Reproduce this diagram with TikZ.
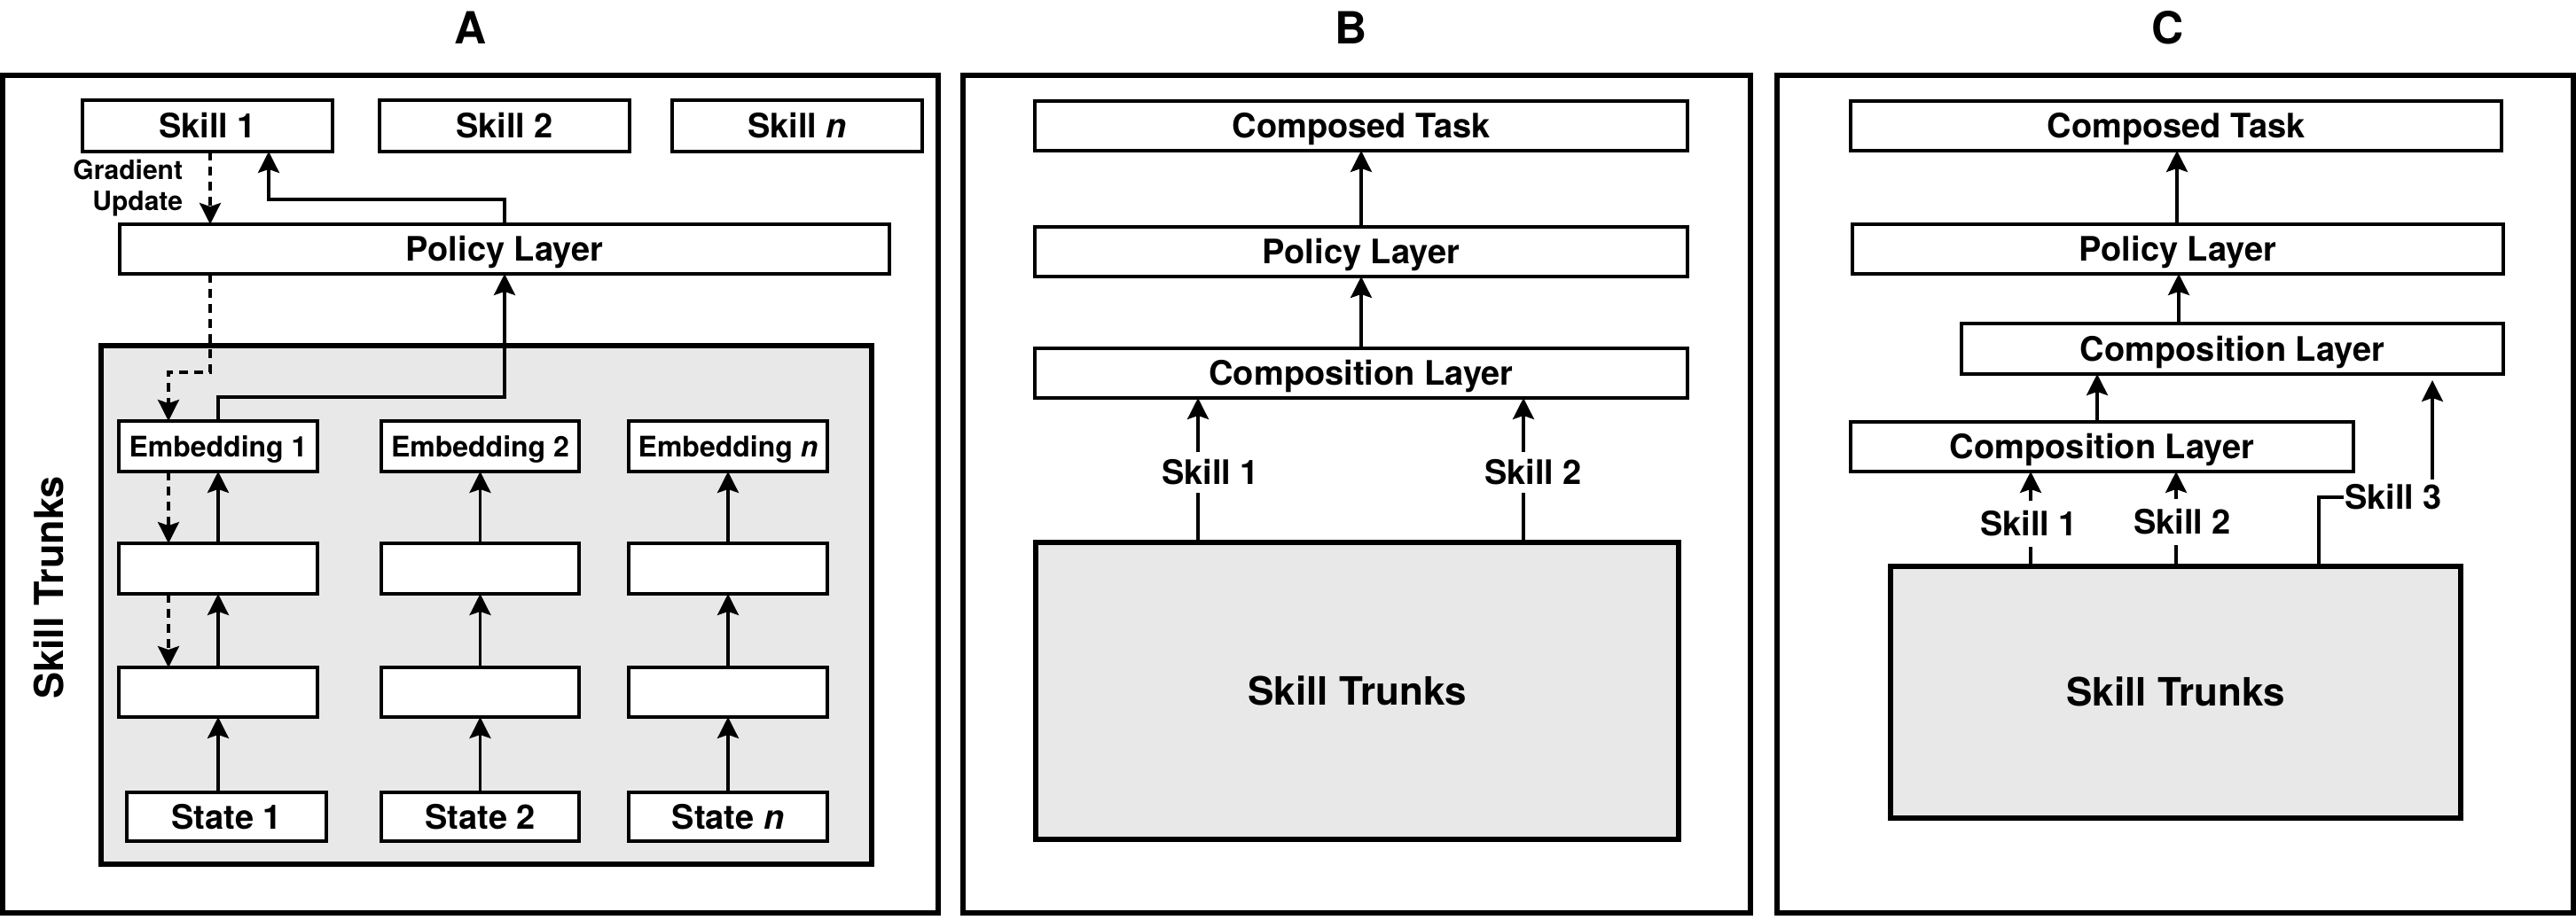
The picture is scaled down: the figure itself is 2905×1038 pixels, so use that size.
\documentclass[tikz,border=0pt]{standalone}
\usepackage{fontspec}
\setmainfont{TeX Gyre Heros}
\usetikzlibrary{arrows.meta}
\definecolor{trunkgray}{HTML}{E8E8E8}
\begin{document}
\begin{tikzpicture}[x=1pt,y=-1pt,
  every node/.style={inner sep=0pt, outer sep=0pt},
  fs/.style={font=\bfseries\fontsize{#1}{#1}\selectfont, text height=0.72*#1, text depth=0pt},
  blk/.style 2 args={draw, line width=3.5pt, fill=white, minimum width=#1, minimum height=#2, fs=38},
  frame/.style={draw, line width=5.5pt},
  trunk/.style={draw, line width=5.5pt, fill=trunkgray},
  arr/.style={line width=3.2pt, -{Stealth[length=24pt,width=24pt,inset=4pt]}},
  dsh/.style={arr, dash pattern=on 10pt off 7pt},
  conn/.style={line width=3.2pt},
  lbl/.style={fs=38, inner xsep=1pt, inner ysep=#1},
  lbl/.default=9pt,
  ttl/.style={fs=50},
]
\useasboundingbox (0,0) rectangle (2905,1038);

% ---------------- Titles ----------------
\node[ttl] (tA) at (531,32) {A};
\node[ttl] (tB) at (1524,32) {B};
\node[ttl] (tC) at (2445,32) {C};

% ---------------- Frames ----------------
\draw[frame] (3,85) rectangle (1058,1030);
\draw[frame] (1086,85) rectangle (1974,1030);
\draw[frame] (2004,85) rectangle (2902,1030);

% ================= Panel A =================
\node[trunk, minimum width=869, minimum height=585] (trunkA) at (548.5,682.5) {};
\node[fs=45, rotate=90] (stA) at (55,663) {Skill Trunks};

\node[blk={282}{58}] (skA1) at (234,142) {Skill 1};
\node[blk={282}{58}] (skA2) at (569,142) {Skill 2};
\node[blk={282}{58}] (skAn) at (899,142) {Skill \textit{n}};
\node[blk={868}{56}] (polA) at (569,281) {Policy Layer};

\node[blk={224}{57}, fs=32] (emb1) at (246,503.5) {Embedding 1};
\node[blk={223}{57}, fs=32] (emb2) at (541.5,503.5) {Embedding 2};
\node[blk={224}{57}, fs=32] (embn) at (821,503.5) {Embedding \textit{n}};

\node[blk={224}{57}] (mid1) at (246,641.5) {};
\node[blk={223}{57}] (mid2) at (541.5,641.5) {};
\node[blk={224}{57}] (midn) at (821,641.5) {};

\node[blk={224}{56}] (low1) at (246,781) {};
\node[blk={223}{56}] (low2) at (541.5,781) {};
\node[blk={224}{56}] (lown) at (821,781) {};

\node[blk={225}{55}] (st1) at (255.5,921.5) {State 1};
\node[blk={223}{55}] (st2) at (541.5,921.5) {State 2};
\node[blk={224}{55}] (stn) at (821,921.5) {State \textit{n}};

\node[font=\bfseries\fontsize{30}{35}\selectfont, align=right, anchor=east] (grad) at (206,212) {Gradient\\Update};

% column x positions
\coordinate (c1) at (246,0);
\coordinate (c2) at (541.5,0);
\coordinate (c3) at (821,0);
\coordinate (d1) at (190,0);

% upward solid arrows in the trunks
\draw[arr] (st1.north -| c1) -- (low1.south -| c1);
\draw[arr] (low1.north -| c1) -- (mid1.south -| c1);
\draw[arr] (mid1.north -| c1) -- (emb1.south -| c1);
\draw[arr] (st2.north -| c2) -- (low2.south -| c2);
\draw[arr] (low2.north -| c2) -- (mid2.south -| c2);
\draw[arr] (mid2.north -| c2) -- (emb2.south -| c2);
\draw[arr] (stn.north -| c3) -- (lown.south -| c3);
\draw[arr] (lown.north -| c3) -- (midn.south -| c3);
\draw[arr] (midn.north -| c3) -- (embn.south -| c3);

% embedding 1 -> policy layer
\coordinate (jA) at (246,448);
\coordinate (xP) at (569,0);
\draw[arr] (emb1.north -| jA) -- (jA) -| (polA.south -| xP);

% policy layer -> skill 1
\coordinate (kA) at (569,225);
\coordinate (xS1) at (303,0);
\draw[arr] (polA.north -| kA) -- (kA) -| (skA1.south -| xS1);

% gradient update (dashed)
\coordinate (dA) at (237,420);
\draw[dsh] (skA1.south -| dA) -- (polA.north -| dA);
\draw[dsh] (polA.south -| dA) -- (dA) -| (emb1.north -| d1);
\draw[dsh] (emb1.south -| d1) -- (mid1.north -| d1);
\draw[dsh] (mid1.south -| d1) -- (low1.north -| d1);

% ================= Panel B =================
\node[blk={736}{56}] (compB) at (1535,142) {Composed Task};
\node[blk={736}{56}] (polB) at (1535,284) {Policy Layer};
\node[blk={736}{56}] (cmpB) at (1535,421) {Composition Layer};
\node[trunk, minimum width=725, minimum height=335, fs=44] (trunkB) at (1530.5,779.5) {Skill Trunks};

\node[lbl] (sB1) at (1365,533) {Skill 1};
\node[lbl] (sB2) at (1729,533) {Skill 2};
\coordinate (xB1) at (1351,0);
\coordinate (xB2) at (1718,0);
\coordinate (xB) at (1535,0);

\draw[arr] (polB.north -| xB) -- (compB.south -| xB);
\draw[arr] (cmpB.north -| xB) -- (polB.south -| xB);
\draw[conn] (trunkB.north -| xB1) -- (sB1.south -| xB1);
\draw[arr] (sB1.north -| xB1) -- (cmpB.south -| xB1);
\draw[conn] (trunkB.north -| xB2) -- (sB2.south -| xB2);
\draw[arr] (sB2.north -| xB2) -- (cmpB.south -| xB2);

% ================= Panel C =================
\node[blk={734}{56}] (compC) at (2454,142) {Composed Task};
\node[blk={734}{56}] (polC) at (2456,281) {Policy Layer};
\node[blk={611}{57}] (cmpC2) at (2517.5,393.5) {Composition Layer};
\node[blk={567}{56}] (cmpC1) at (2370.5,504) {Composition Layer};
\node[trunk, minimum width=643, minimum height=284, fs=44] (trunkC) at (2453.5,781) {Skill Trunks};

\node[lbl=12pt] (sC1) at (2288,591) {Skill 1};
\node[lbl=12pt] (sC2) at (2461,589) {Skill 2};
\node[lbl=6pt] (sC3) at (2699,561) {Skill 3};

\coordinate (xC) at (2455,0);
\coordinate (xC2) at (2457,0);
\coordinate (xC12) at (2365,0);
\coordinate (xCs1) at (2290,0);
\coordinate (xCs2) at (2454,0);
\coordinate (xCs3) at (2743,0);
\coordinate (xCt3) at (2615,0);

\draw[arr] (polC.north -| xC) -- (compC.south -| xC);
\draw[arr] (cmpC2.north -| xC2) -- (polC.south -| xC2);
\draw[arr] (cmpC1.north -| xC12) -- (cmpC2.south -| xC12);

\draw[conn] (trunkC.north -| xCs1) -- (sC1.south -| xCs1);
\draw[arr] (sC1.north -| xCs1) -- (cmpC1.south -| xCs1);
\draw[conn] (trunkC.north -| xCs2) -- (sC2.south -| xCs2);
\draw[arr] (sC2.north -| xCs2) -- (cmpC1.south -| xCs2);
\draw[conn] (trunkC.north -| xCt3) |- (sC3.west);
\draw[arr, shorten >=7pt] (sC3.north -| xCs3) -- (cmpC2.south -| xCs3);

\end{tikzpicture}
\end{document}
